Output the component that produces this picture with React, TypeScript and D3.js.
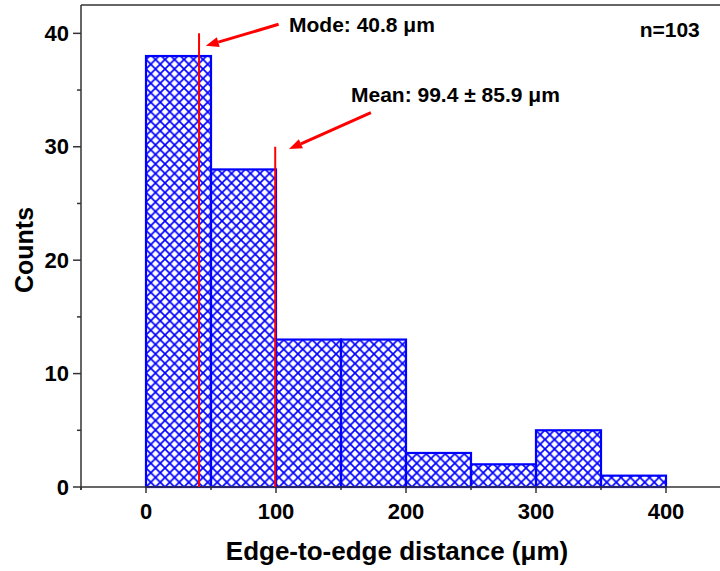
import React from 'react';
import * as d3 from 'd3';

// histogram bins (µm) and counts
const binStarts = [0, 50, 100, 150, 200, 250, 300, 350];
const binWidth = 50;
const counts = [38, 28, 13, 13, 3, 2, 5, 1];

const xMajorTicks = [0, 100, 200, 300, 400];
const xMinorTicks = [-50, 50, 150, 250, 350];
const yMajorTicks = [0, 10, 20, 30, 40];
const yMinorTicks = [5, 15, 25, 35];

const modeValue = 40.8;
const meanValue = 99.4;
const modeTop = 40;
const meanTop = 30;

const W = 720;
const H = 571;
const FONT = '"Liberation Sans", Arial, sans-serif';

const App = () => {
  const x = d3.scaleLinear().domain([-50, 450]).range([81, 731]);
  const y = d3.scaleLinear().domain([0, 42.5]).range([487, 5]);

  // annotation anchors in data units
  const modeArrow = { from: [102, 40.8], to: [46, 38.9] };
  const meanArrow = { from: [173, 33.0], to: [110, 29.8] };

  const arrow = (a: { from: number[]; to: number[] }) => {
    const x1 = x(a.from[0]), y1 = y(a.from[1]);
    const x2 = x(a.to[0]), y2 = y(a.to[1]);
    const ang = Math.atan2(y2 - y1, x2 - x1);
    const len = 13, half = 5;
    const bx = x2 - len * Math.cos(ang), by = y2 - len * Math.sin(ang);
    const px = -Math.sin(ang) * half, py = Math.cos(ang) * half;
    return (
      <g>
        <line x1={x1} y1={y1} x2={bx} y2={by} stroke="#ff0000" strokeWidth={3} />
        <path d={`M${x2},${y2}L${bx + px},${by + py}L${bx - px},${by - py}Z`} fill="#ff0000" />
      </g>
    );
  };

  const x0 = x.range()[0];
  const yBase = y(0);
  const p = 9.5;

  return (
    <svg width={W} height={H} style={{ position: 'absolute', left: 0, top: 0 }} fontFamily={FONT}>
      <defs>
        <pattern id="hatch" patternUnits="userSpaceOnUse" width={p} height={p} x={x(0)} y={yBase}>
          <path d={`M0,0L${p},${p}M${p},0L0,${p}M-1,${p - 1}L1,${p + 1}M${p - 1},-1L${p + 1},1`} stroke="#0000ff" strokeWidth={1.7} />
        </pattern>
      </defs>
      <rect width={W} height={H} fill="#fff" />

      {counts.map((c, i) => (
        <rect
          key={i}
          x={x(binStarts[i])}
          y={y(c)}
          width={x(binStarts[i] + binWidth) - x(binStarts[i])}
          height={yBase - y(c)}
          fill="url(#hatch)"
          stroke="#0000ff"
          strokeWidth={2.2}
        />
      ))}

      {/* frame */}
      <line x1={x0} y1={y.range()[1]} x2={W + 20} y2={y.range()[1]} stroke="#333" strokeWidth={1.5} />
      <line x1={x0} y1={y.range()[1]} x2={x0} y2={yBase + 3} stroke="#333" strokeWidth={1.5} />
      <line x1={x0} y1={yBase} x2={W + 20} y2={yBase} stroke="#333" strokeWidth={1.5} />

      {xMajorTicks.map(t => (
        <g key={t}>
          <line x1={x(t)} x2={x(t)} y1={yBase} y2={yBase + 6} stroke="#333" strokeWidth={1.5} />
          <text x={x(t)} y={519} textAnchor="middle" fontSize={22} fontWeight="bold">{t}</text>
        </g>
      ))}
      {xMinorTicks.map(t => (
        <line key={t} x1={x(t)} x2={x(t)} y1={yBase} y2={yBase + 3} stroke="#333" strokeWidth={1.5} />
      ))}
      {yMajorTicks.map(t => (
        <g key={t}>
          <line x1={x0 - 8} x2={x0} y1={y(t)} y2={y(t)} stroke="#333" strokeWidth={1.5} />
          <text x={69} y={y(t) + 7.5} textAnchor="end" fontSize={22} fontWeight="bold">{t}</text>
        </g>
      ))}
      {yMinorTicks.map(t => (
        <line key={t} x1={x0 - 4} x2={x0} y1={y(t)} y2={y(t)} stroke="#333" strokeWidth={1.5} />
      ))}

      {/* mode / mean markers */}
      <line x1={x(modeValue)} x2={x(modeValue)} y1={y(modeTop)} y2={yBase} stroke="#ff0000" strokeWidth={2} />
      <line x1={x(meanValue)} x2={x(meanValue)} y1={y(meanTop)} y2={yBase} stroke="#ff0000" strokeWidth={2} />
      {arrow(modeArrow)}
      {arrow(meanArrow)}

      <text x={x(110)} y={y(40.1)} fontSize={21} fontWeight="bold">Mode: 40.8 μm</text>
      <text x={x(157.7)} y={y(33.95)} fontSize={21} fontWeight="bold">Mean: 99.4 ± 85.9 μm</text>
      <text x={x(426)} y={y(39.7)} textAnchor="end" fontSize={21} fontWeight="bold">n=103</text>

      <text x={397} y={560} textAnchor="middle" fontSize={26} fontWeight="bold">Edge-to-edge distance (μm)</text>
      <text transform="translate(33,250) rotate(-90)" textAnchor="middle" fontSize={25} fontWeight="bold">Counts</text>
    </svg>
  );
};

export default App;
